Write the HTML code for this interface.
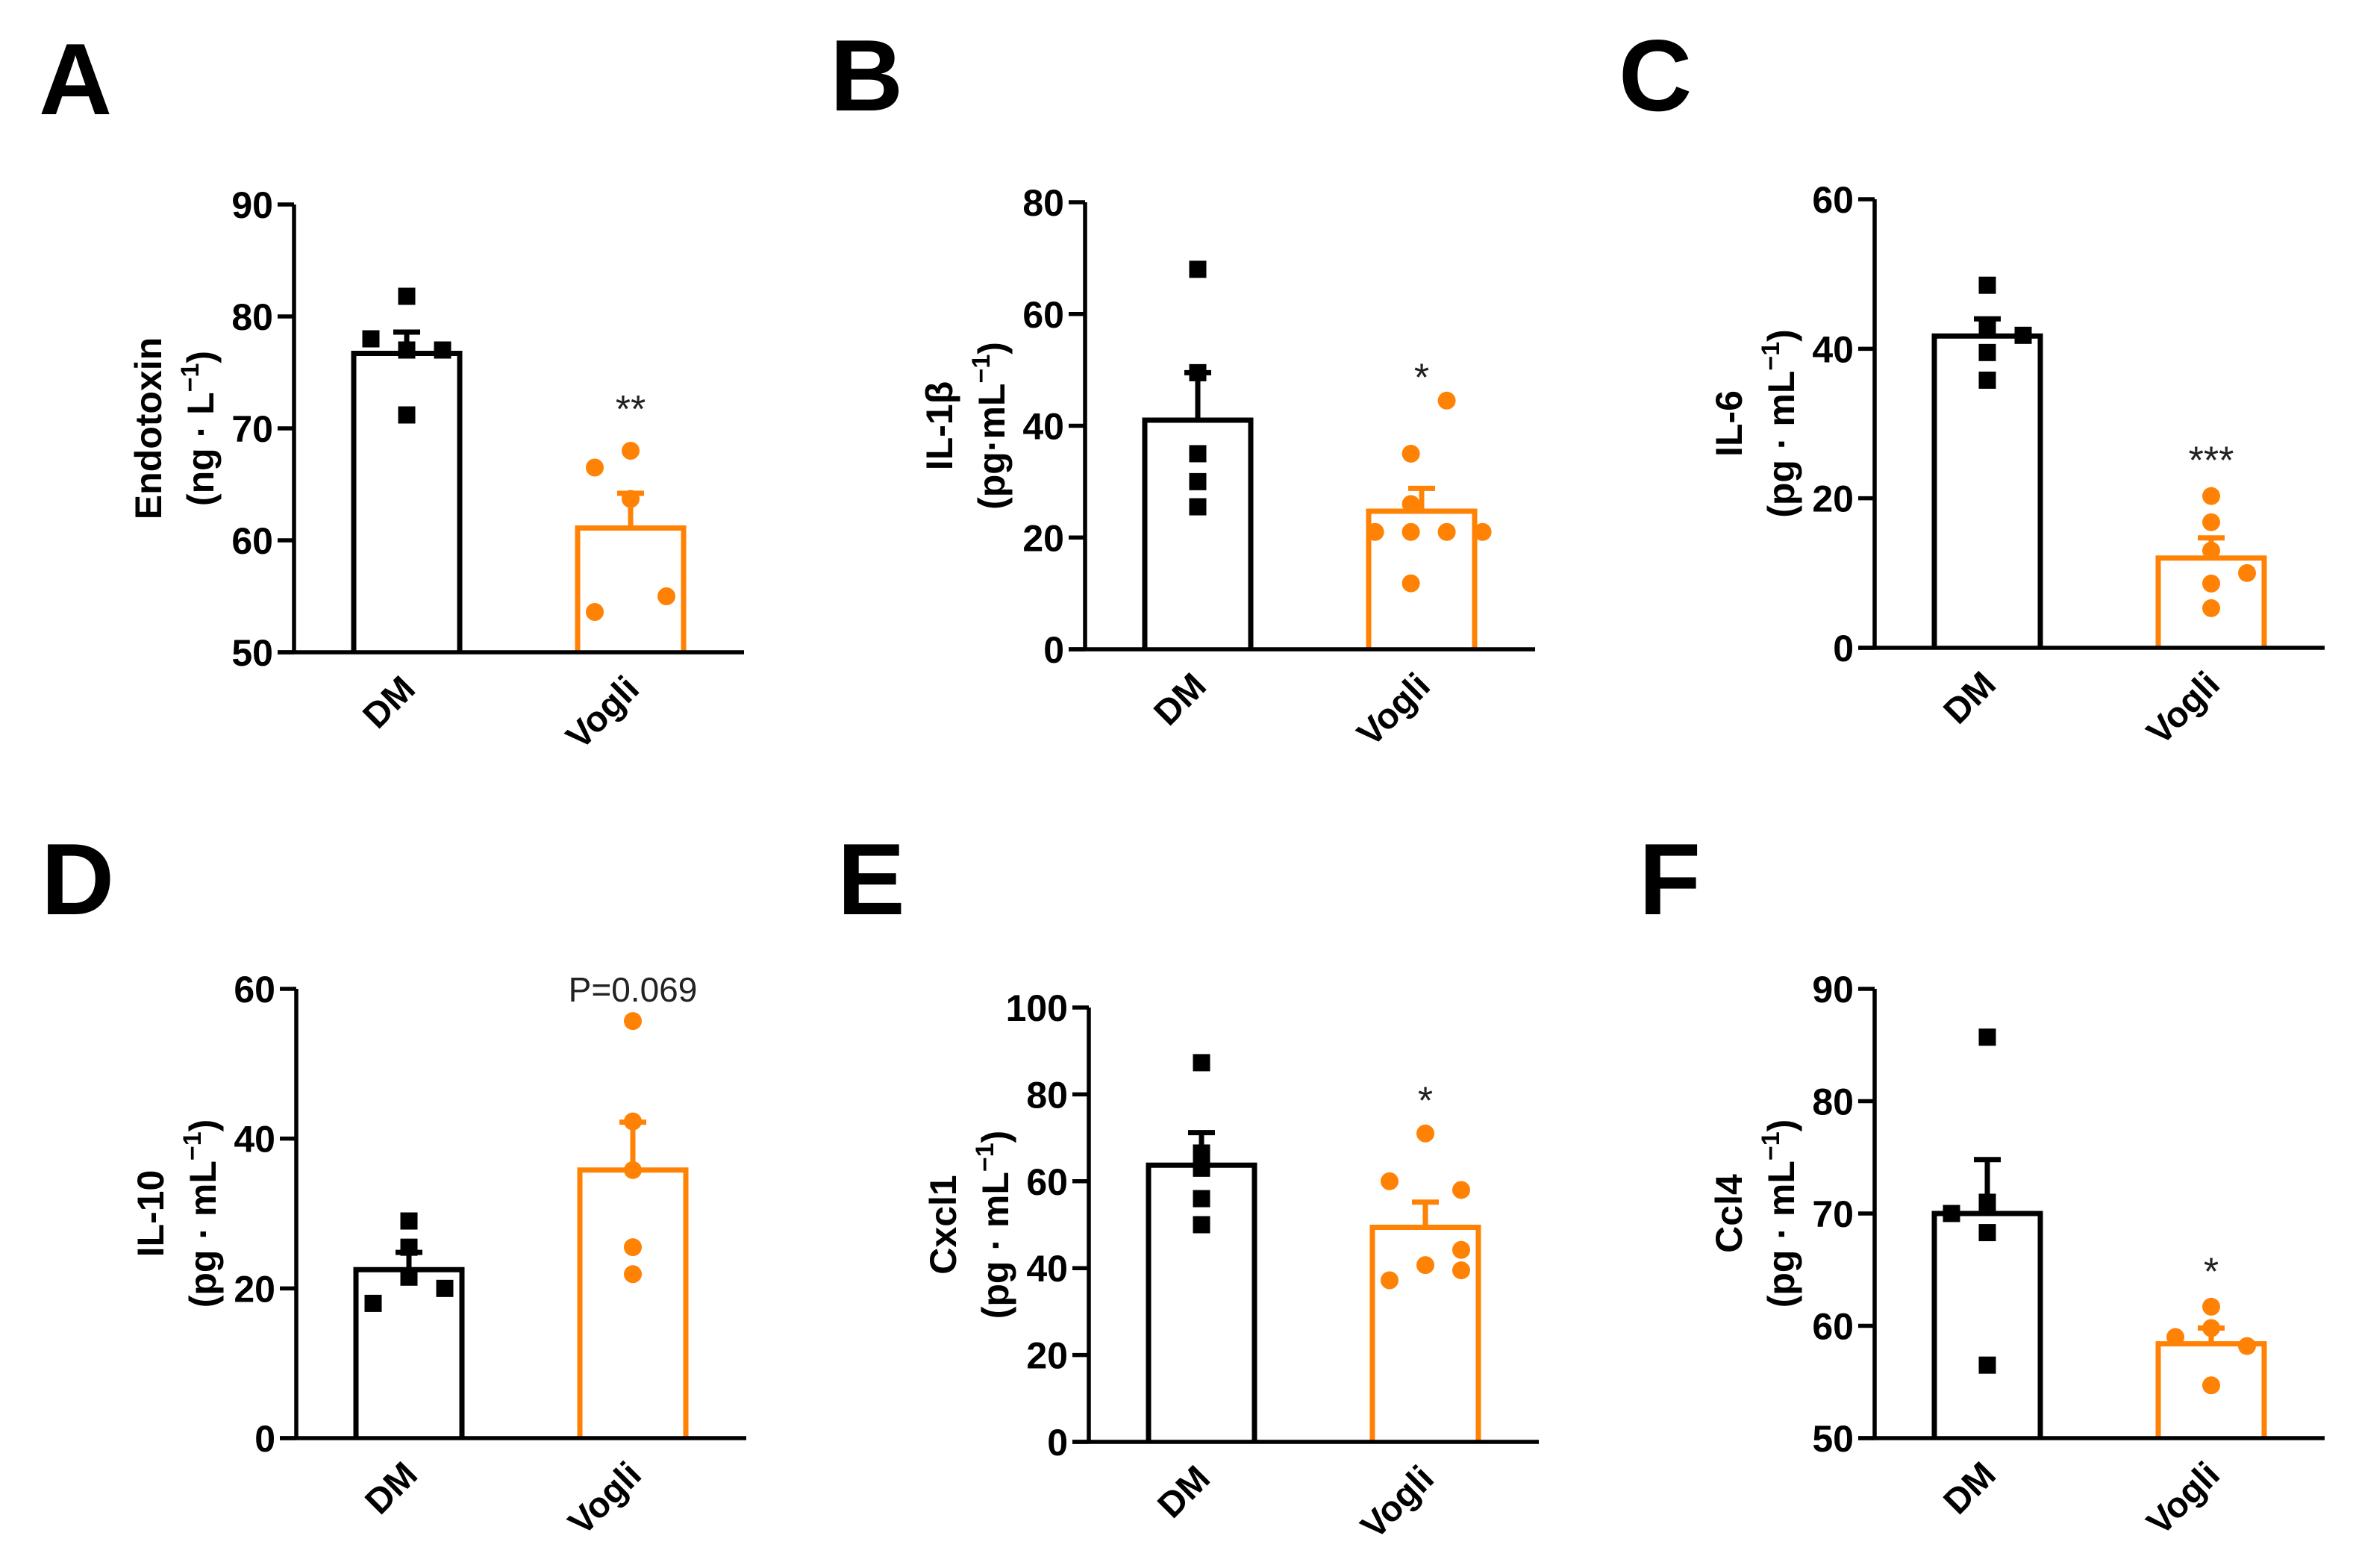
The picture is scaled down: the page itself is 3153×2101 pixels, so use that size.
<!DOCTYPE html>
<html><head><meta charset="utf-8">
<style>
html,body{margin:0;padding:0;background:#fff;}
svg{display:block;font-family:"Liberation Sans",Arial,sans-serif;}
</style></head>
<body>
<svg id="fig" width="3153" height="2101" viewBox="0 0 3153 2101" xmlns="http://www.w3.org/2000/svg"></svg>
<script>
// ---------- data ----------
const categories = ["DM", "Vogli"];
const panelLetters = ["A","B","C","D","E","F"];
const titleLine1 = ["Endotoxin","IL-1β","IL-6","IL-10","Cxcl1","Ccl4"];
const titleUnit = ["(ng · L","(pg·mL","(pg · mL","(pg · mL","(pg · mL","(pg · mL"];
const yMin = [50,0,0,0,0,50];
const yMax = [90,80,60,60,100,90];
const yTicks = [[50,60,70,80,90],[0,20,40,60,80],[0,20,40,60],[0,20,40,60],[0,20,40,60,80,100],[50,60,70,80,90]];
const dmMean = [76.7,41,41.7,22.5,63.7,70];
const dmErr = [78.6,49.5,44,24.8,71.2,74.8];
const vgMean = [61.1,24.7,12.0,35.8,49.4,58.4];
const vgErr = [64.2,28.8,14.7,42.2,55.2,59.8];
const dmPoints = [
  [[78,-1],[81.8,0],[77,0],[71.2,0],[77,1]],
  [[68,0],[49.5,0],[35,0],[30,0],[25.5,0]],
  [[48.5,0],[43,0],[41.8,1],[39.5,0],[35.8,0]],
  [[29,0],[25.5,0],[21.5,0],[18,-1],[20,1]],
  [[87.3,0],[66.5,0],[63,0],[56,0],[50,0]],
  [[85.7,0],[70,-1],[71,0],[68.3,0],[56.5,0]]
];
const vgPoints = [
  [[66.5,-1],[68,0],[63.7,0],[53.6,-1],[55,1]],
  [[44.5,0.7],[35,-0.3],[26,-0.3],[21,-1.3],[21,-0.3],[21,0.7],[21,1.7],[11.8,-0.3]],
  [[20.3,0],[16.8,0],[13,0],[10,1],[8.6,0],[5.3,0]],
  [[55.7,0],[42.3,0],[35.8,0],[25.5,0],[21.9,0]],
  [[71,0],[60,-1],[58,1],[44.2,1],[40.7,0],[39.5,1],[37.2,-1]],
  [[61.7,0],[59.8,0],[59,-1],[58.2,1],[54.7,0]]
];
const sigLabels = ["**","*","***","P=0.069","*","*"];
const sigValue = [72,49.2,25.5,59.9,79.3,65.1];

// ---------- layout (pixels) ----------
const PX0 = [394,1454,2512,397,1459,2512];
const PTOP = [274,271,267,1325,1350,1325];
const PBOT = [874,870,868,1927,1932,1927];
const LETX = [52,1112,2169,55,1122,2196];
const LETY = [153,148,148,1225,1225,1225];
const ORANGE = "#ff8205";
const NS = "http://www.w3.org/2000/svg";
const svg = document.getElementById("fig");
function mk(tag, attrs, parent){
  const e = document.createElementNS(NS, tag);
  for (const k in attrs) e.setAttribute(k, attrs[k]);
  (parent||svg).appendChild(e);
  return e;
}

for (let p = 0; p < 6; p++){
  const g = mk("g", {});
  
  
  const x0 = PX0[p], top = PTOP[p], bot = PBOT[p];
  const y = v => bot - (v - yMin[p]) / (yMax[p] - yMin[p]) * (bot - top);
  const barX = [x0 + 80, x0 + 380];
  const barW = 142;
  const cx = [barX[0] + barW/2, barX[1] + barW/2];
  const spread = 48;

  const L = mk("text", {x:LETX[p], y:LETY[p], "font-size":136, "font-weight":"bold", fill:"#000"}, g);
  L.textContent = panelLetters[p];
  
  

  // y-axis title
  const midY = (top + bot) / 2;
  const tt = mk("text", {transform:`translate(${x0-178},${midY}) rotate(-90)`, "text-anchor":"middle", "font-size":50, "font-weight":"bold", fill:"#000"}, g);
  
  
  const t1 = mk("tspan", {x:0, y:0}, tt); t1.textContent = titleLine1[p];
  const t2 = mk("tspan", {x:0, y:70}, tt); t2.textContent = titleUnit[p];
  const t3 = mk("tspan", {dy:-20, "font-size":34}, tt); t3.textContent = "−1";
  const t4 = mk("tspan", {dy:20}, tt); t4.textContent = ")";

  // bars
  const colors = ["#000", ORANGE];
  const means = [dmMean[p], vgMean[p]];
  const errs = [dmErr[p], vgErr[p]];
  const pts = [dmPoints[p], vgPoints[p]];
  for (let i = 0; i < 2; i++){
    const bar = mk("path", {d:`M${barX[i]},${bot} V${y(means[i])} H${barX[i]+barW} V${bot}`, fill:"#fff", stroke:colors[i], "stroke-width":7, "stroke-linejoin":"miter"}, g);
    
    
    const eb = mk("path", {d:`M${cx[i]},${y(means[i])} V${y(errs[i])} M${cx[i]-18},${y(errs[i])} H${cx[i]+18}`, stroke:colors[i], "stroke-width":7, fill:"none"}, g);
    
    
    for (const [v, off] of pts[i]){
      const px = cx[i] + off * spread, py = y(v);
      let m;
      if (i === 0) m = mk("rect", {x:px-11.5, y:py-11.5, width:23, height:23, fill:"#000"}, g);
      else m = mk("circle", {cx:px, cy:py, r:12, fill:ORANGE}, g);
      
      
    }
    const xl = mk("text", {transform:`translate(${cx[i]+14},${bot+52}) rotate(-45)`, "text-anchor":"end", "font-size":48, "font-weight":"bold", fill:"#000"}, g);
    xl.textContent = categories[i];
    
    
  }

  // axes
  const ax = mk("path", {d:`M${x0},${top} V${bot} M${x0-22},${bot} H${x0+603}`, stroke:"#000", "stroke-width":5.5, fill:"none"}, g);
  
  
  for (const t of yTicks[p]){
    const tk = mk("line", {x1:x0-22, x2:x0, y1:y(t), y2:y(t), stroke:"#000", "stroke-width":5.5}, g);
    
    
    const tl = mk("text", {x:x0-28, y:y(t)+18, "text-anchor":"end", "font-size":50, "font-weight":"bold", fill:"#000"}, g);
    tl.textContent = t;
    
    
  }

  // significance
  const isP = sigLabels[p].startsWith("P");
  const sig = mk("text", {x:cx[1], y:y(sigValue[p]) + (isP ? 16 : 22), "text-anchor":"middle", "font-size":isP ? 46 : 52, fill:"#222"}, g);
  sig.textContent = sigLabels[p];
  
  
}
</script>
</body></html>
